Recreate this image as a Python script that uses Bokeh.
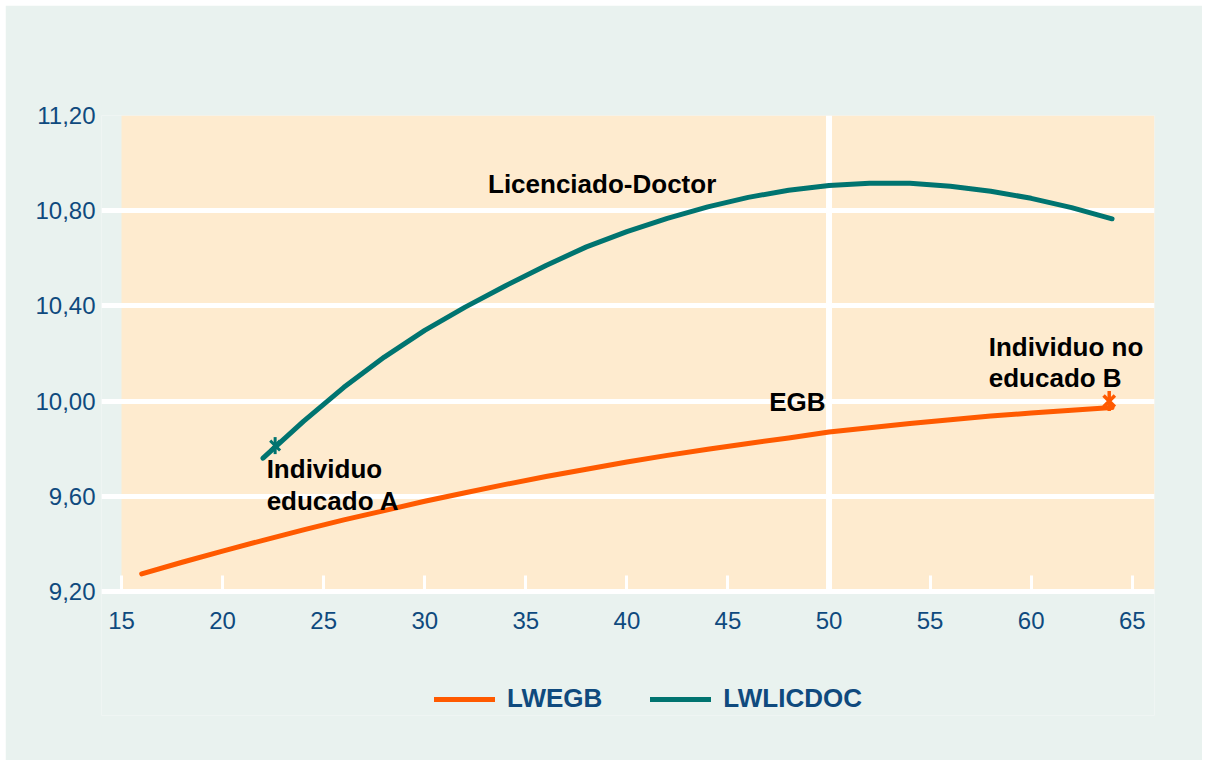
import math
from bokeh.plotting import figure
from bokeh.models import (Range1d, BoxAnnotation, Legend, LegendItem, FixedTicker,
                          CustomJSTickFormatter)
from bokeh.core.properties import value
from bokeh.embed import file_html
from bokeh.resources import INLINE

# ---- data ----
ages_egb = [16, 18, 20, 22, 24, 26, 28, 30, 32, 34, 36, 38, 40,
            42, 44, 46, 48, 50, 52, 54, 56, 58, 60, 62, 64]
lwegb = [9.274, 9.323, 9.370, 9.415, 9.459, 9.501, 9.540, 9.579, 9.615,
         9.650, 9.683, 9.714, 9.744, 9.772, 9.798, 9.822, 9.845, 9.870,
         9.888, 9.906, 9.922, 9.937, 9.950, 9.962, 9.973]

ages_lic = [22, 24, 26, 28, 30, 32, 34, 36, 38, 40, 42, 44, 46,
            48, 50, 52, 54, 56, 58, 60, 62, 64]
lwlicdoc = [9.760, 9.915, 10.058, 10.185, 10.297, 10.395, 10.485, 10.570,
            10.648, 10.712, 10.768, 10.816, 10.856, 10.886, 10.906, 10.915,
            10.915, 10.903, 10.882, 10.852, 10.813, 10.766]

star_a_age = [22.6]
star_a_val = [9.813]
star_b_age = [63.86]
star_b_val = [10.00]

x_ticks = [15, 20, 25, 30, 35, 40, 45, 50, 55, 60, 65]
y_ticks = [9.2, 9.6, 10.0, 10.4, 10.8, 11.2]
ref_age = [50]

series_names = ["LWEGB", "LWLICDOC"]

ORANGE = "#ff5a00"
TEAL = "#007470"
BLUE = "#0f4a7e"
PEACH = "#feebcf"
MINT = "#e9f2ef"
FONT = "Liberation Sans"

X0, X1 = 15, 66.1            # peach area in data units
Y0, Y1 = 9.2, 11.2
PX_X = 1033 / (X1 - X0)      # pixels per year
PX_Y = 238.0                 # pixels per log-wage unit
LEFT_PAD = 20                # frame extends 20 px left of the peach area
FRAME_H = 600
x_start = X0 - LEFT_PAD / PX_X
y_bottom = Y1 - FRAME_H / PX_Y   # room below the axis for the legend

p = figure(frame_width=1033 + LEFT_PAD, frame_height=FRAME_H,
           x_range=Range1d(x_start, X1), y_range=Range1d(y_bottom, Y1),
           output_backend="svg", toolbar_location=None,
           min_border_left=116 - LEFT_PAD, min_border_right=48,
           min_border_top=110, min_border_bottom=45)
p.margin = (5, 5, 5, 5)

p.background_fill_color = MINT
p.border_fill_color = MINT
p.outline_line_color = None

# peach plotting area
p.add_layout(BoxAnnotation(left=X0, right=X1, bottom=Y0, top=Y1,
                           fill_color=PEACH, fill_alpha=1, line_color=None,
                           level="image"))

# grid
p.xgrid.visible = False
p.ygrid.ticker = FixedTicker(ticks=y_ticks)
p.ygrid.grid_line_color = "white"
p.ygrid.grid_line_width = 5
p.ygrid.bounds = (X0 - 3 / PX_X, X1 + 2 / PX_X)

# y axis
p.yaxis.ticker = FixedTicker(ticks=y_ticks)
p.yaxis.formatter = CustomJSTickFormatter(code="return tick.toFixed(2).replace('.', ',');")
p.yaxis.axis_line_color = None
p.yaxis.major_tick_line_color = None
p.yaxis.major_tick_out = 0
p.yaxis.major_tick_in = 0
p.yaxis.minor_tick_line_color = None
p.yaxis.major_label_standoff = 6
p.yaxis.major_label_text_font = FONT
p.yaxis.major_label_text_font_size = "24px"
p.yaxis.major_label_text_color = BLUE

# x axis, drawn at 9,20
p.xaxis.fixed_location = Y0
p.xaxis.bounds = (X0 - 3 / PX_X, X1)
p.xaxis.ticker = FixedTicker(ticks=x_ticks)
p.xaxis.axis_line_color = "white"
p.xaxis.axis_line_width = 5
p.xaxis.major_tick_line_color = "white"
p.xaxis.major_tick_line_width = 3
p.xaxis.major_tick_in = 16
p.xaxis.major_tick_out = 0
p.xaxis.minor_tick_line_color = None
p.xaxis.major_label_standoff = 20
p.xaxis.major_label_text_font = FONT
p.xaxis.major_label_text_font_size = "24px"
p.xaxis.major_label_text_color = BLUE

# vertical white line at 50
p.segment(x0=ref_age, y0=[Y0] * len(ref_age), x1=ref_age, y1=[Y1] * len(ref_age),
          line_color="white", line_width=6, level="underlay")

r1 = p.line(ages_egb, lwegb, line_color=ORANGE, line_width=5, line_cap="round",
            line_join="round")
r2 = p.line(ages_lic, lwlicdoc, line_color=TEAL, line_width=5, line_cap="round",
            line_join="round")

# asterisk markers
p.scatter(star_a_age, star_a_val, marker="x", size=14, line_color=TEAL, line_width=3)
p.scatter(star_a_age, star_a_val, marker="dash", angle=math.pi / 2, size=17,
          line_color=TEAL, line_width=3)
p.scatter(star_b_age, star_b_val, marker="x", size=16, line_color=ORANGE, line_width=3.5)
p.scatter(star_b_age, star_b_val, marker="dash", angle=math.pi / 2, size=20,
          line_color=ORANGE, line_width=3.5)

# annotations
def label(x, y, t):
    p.text(x=[x], y=[y], text=[t], text_font=value(FONT), text_font_style="bold",
           text_font_size="26px", text_color="black",
           text_align="left", text_baseline="alphabetic", y_offset=-10)

label(33.13, 10.872, "Licenciado-Doctor")
label(47.04, 9.956, "EGB")
label(22.18, 9.6706, "Individuo")
label(22.18, 9.5374, "educado A")
label(57.9, 10.184, "Individuo no")
label(57.9, 10.056, "educado B")

legend = Legend(items=[LegendItem(label=series_names[0], renderers=[r1]),
                       LegendItem(label=series_names[1], renderers=[r2])],
                orientation="horizontal", location=(313 + LEFT_PAD, 1),
                glyph_width=61, glyph_height=30, label_height=30,
                label_standoff=12, spacing=48,
                padding=0, margin=0, border_line_color=None,
                background_fill_alpha=0,
                label_text_font=FONT, label_text_font_size="26px",
                label_text_font_style="bold", label_text_color=BLUE)
p.add_layout(legend, "center")

open("out.html", "w").write(file_html(p, INLINE))
